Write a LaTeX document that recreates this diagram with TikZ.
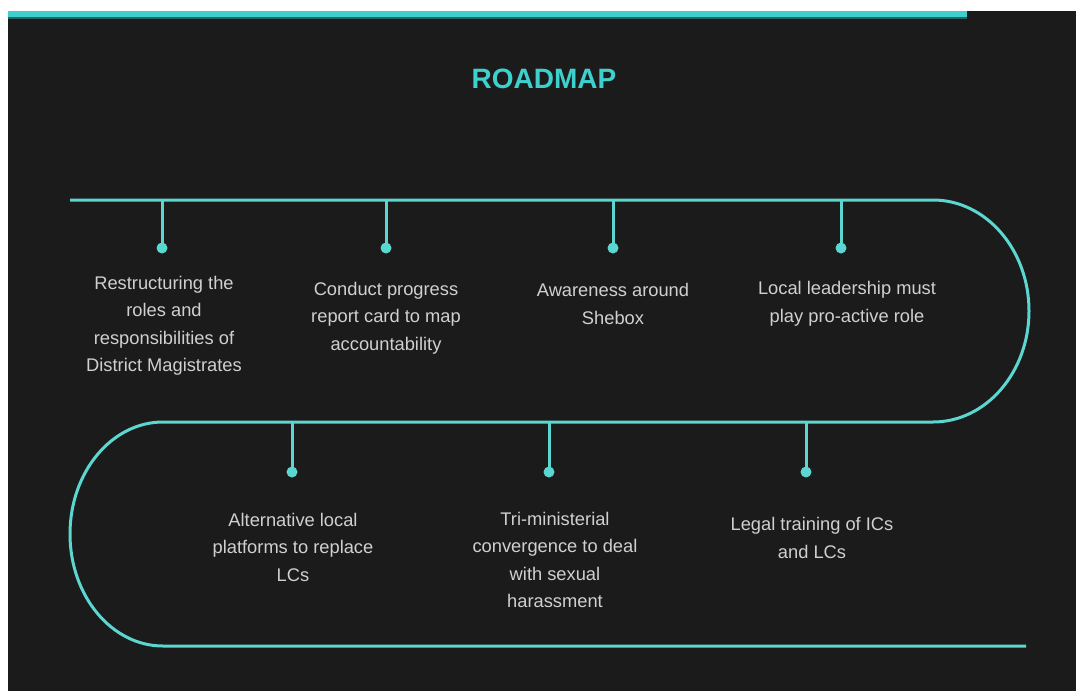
\documentclass[tikz,border=0pt]{standalone}
\usepackage{fontspec}
\setmainfont{Liberation Sans}
\definecolor{bgdark}{HTML}{1B1B1B}
\definecolor{roadcyan}{HTML}{5CD6D0}
\definecolor{titlecyan}{HTML}{3DD0CC}
\definecolor{txtgray}{HTML}{D0D0D0}

\begin{document}
\begin{tikzpicture}[x=1pt,y=-1pt,
    road/.style={draw=roadcyan, line width=3pt},
    dot/.style={circle, fill=roadcyan, inner sep=0pt, minimum size=11pt},
    item/.style={text=txtgray, align=center, font=\fontsize{18.3}{27.5}\selectfont}]
  % page and dark panel
  \fill[white] (0,0) rectangle (1076,691);
  \useasboundingbox (0,0) rectangle (1076,691);
  \fill[bgdark] (8,11) rectangle (1076,691);
  \fill[titlecyan] (8,11) rectangle (967,17);
  \fill[titlecyan!40!bgdark] (8,17) rectangle (967,19);

  \node[text=titlecyan, font=\fontsize{28}{32}\selectfont\bfseries] (title) at (544,79) {ROADMAP};

  % the winding road
  \coordinate (s) at (70,200);
  \coordinate (r1) at (933,200);
  \coordinate (r2) at (933,422);
  \coordinate (l1) at (163,422);
  \coordinate (l2) at (163,646);
  \coordinate (e) at (1026,646);
  \draw[road] (s) -- (r1) arc[start angle=-90, end angle=90, x radius=96, y radius=111]
    -- (l1) arc[start angle=270, end angle=90, x radius=93, y radius=112] -- (e);

  % stems with dots
  \foreach \x/\n in {162/a,386/b,613/c,841/d} {
    \coordinate (top\n) at (\x,200);
    \node[dot] (dot\n) at (\x,248) {};
    \draw[road] (top\n) -- (dot\n.center);
  }
  \foreach \x/\n in {292/e,549/f,806/g} {
    \coordinate (top\n) at (\x,422);
    \node[dot] (dot\n) at (\x,472) {};
    \draw[road] (top\n) -- (dot\n.center);
  }

  % milestones
  \node[item] (txta) at (164,326) {Restructuring the\\roles and\\responsibilities of\\District Magistrates};
  \node[item] (txtb) at (386,318) {Conduct progress\\report card to map\\accountability};
  \node[item] (txtc) at (613,304) {Awareness around\\Shebox};
  \node[item] (txtd) at (847,304) {Local leadership must\\play pro-active role};
  \node[item] (txte) at (293,547) {Alternative local\\platforms to replace\\LCs};
  \node[item] (txtf) at (555,560) {Tri-ministerial\\convergence to deal\\with sexual\\harassment};
  \node[item] (txtg) at (812,538) {Legal training of ICs\\and LCs};
\end{tikzpicture}
\end{document}
